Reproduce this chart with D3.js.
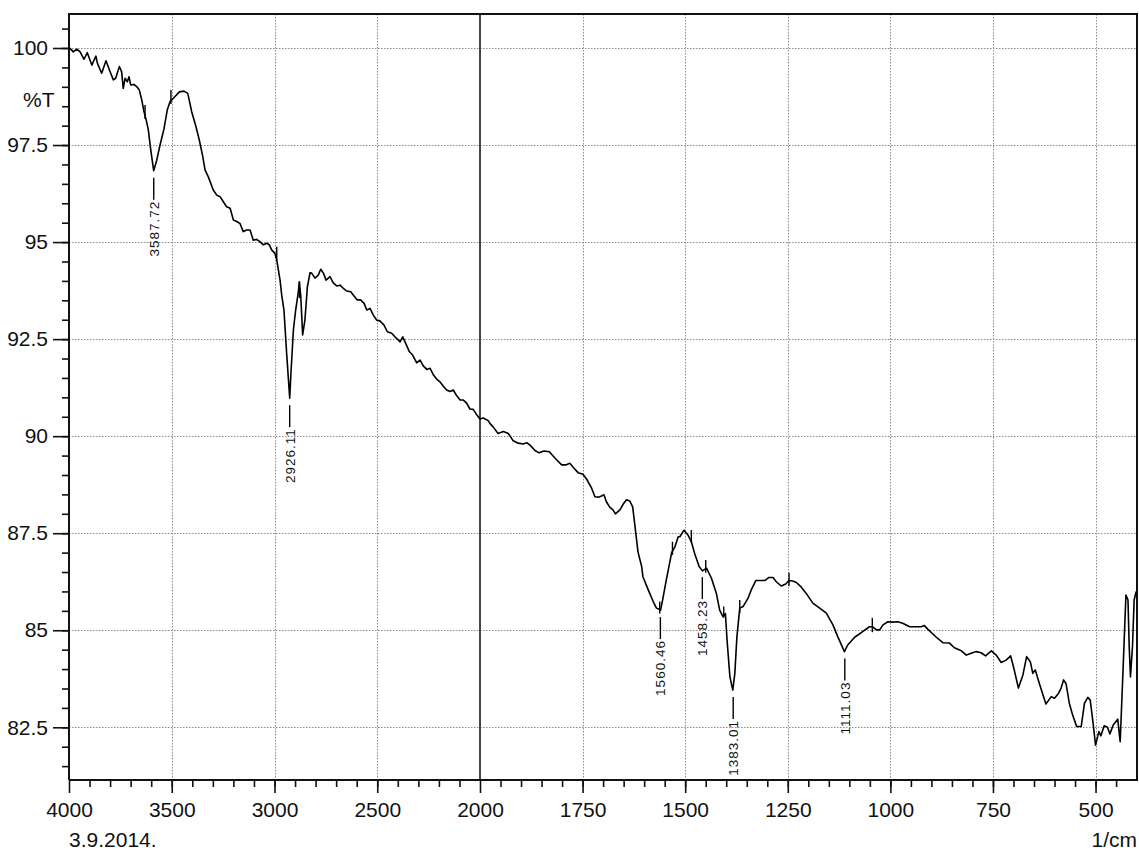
<!DOCTYPE html>
<html>
<head>
<meta charset="utf-8">
<script src="https://cdn.jsdelivr.net/npm/d3@7/dist/d3.min.js"></script>
<style>
  html, body { margin: 0; padding: 0; background: #fff; }
  svg { display: block; font-family: "Liberation Sans", Arial, sans-serif; }
</style>
</head>
<body>
<svg id="chart" width="1139" height="850"></svg>
<script>
// ---- Data (wavenumber in 1/cm, transmittance in %T) ----
const spectrumHigh = [
  [4000,100.0],[3995,99.99],[3979,99.90],[3962,99.97],[3946,99.90],[3927,99.71],[3911,99.88],[3889,99.56],
  [3869,99.79],[3862,99.61],[3841,99.35],[3820,99.67],[3800,99.39],[3784,99.18],[3773,99.22],[3755,99.52],
  [3744,99.39],[3736,98.96],[3727,99.22],[3716,99.13],[3708,99.26],[3700,99.05],[3684,99.06],[3668,98.99],
  [3658,98.92],[3646,98.66],[3635,98.36],[3625,98.16],[3614,97.89],[3602,97.37],[3588,96.84],[3573,97.11],
  [3557,97.50],[3538,97.91],[3522,98.40],[3508,98.62],[3484,98.75],[3463,98.87],[3440,98.89],[3422,98.83],
  [3403,98.36],[3382,97.97],[3366,97.63],[3349,97.20],[3338,96.86],[3322,96.68],[3298,96.34],[3281,96.21],
  [3265,96.17],[3249,96.04],[3233,95.91],[3216,95.87],[3200,95.57],[3184,95.53],[3168,95.48],[3152,95.27],
  [3135,95.31],[3119,95.31],[3103,95.05],[3087,95.07],[3071,95.01],[3054,94.93],[3038,94.97],[3025,94.93],
  [3014,94.80],[2998,94.71],[2989,94.54],[2981,94.28],[2973,94.02],[2965,93.64],[2954,93.25],[2941,92.14],
  [2926,90.98],[2920,91.62],[2908,92.74],[2897,93.25],[2884,93.72],[2879,93.98],[2872,93.59],[2863,92.61],
  [2852,92.99],[2840,93.85],[2827,94.21],[2819,94.20],[2803,94.07],[2787,94.15],[2775,94.30],[2762,94.20],
  [2749,94.02],[2730,94.11],[2714,93.95],[2697,93.87],[2681,93.89],[2665,93.81],[2649,93.74],[2629,93.72],
  [2613,93.61],[2597,93.51],[2581,93.51],[2564,93.42],[2551,93.25],[2535,93.29],[2519,93.12],[2503,92.99],
  [2487,92.97],[2467,92.86],[2451,92.69],[2430,92.65],[2414,92.56],[2398,92.48],[2389,92.43],[2376,92.56],
  [2360,92.37],[2344,92.18],[2328,92.09],[2308,91.89],[2292,91.96],[2276,91.81],[2259,91.72],[2243,91.75],
  [2227,91.58],[2211,91.47],[2195,91.40],[2179,91.29],[2162,91.19],[2146,91.15],[2130,91.19],[2113,91.04],
  [2097,90.93],[2081,90.93],[2065,90.85],[2049,90.70],[2033,90.69],[2016,90.55],[2000,90.44]
];
const spectrumLow = [
  [1992,90.47],[1980,90.40],[1976,90.33],[1968,90.24],[1956,90.07],[1943,90.12],[1931,90.07],[1919,89.88],
  [1907,89.82],[1895,89.80],[1886,89.83],[1878,89.77],[1866,89.63],[1856,89.57],[1844,89.62],[1831,89.60],
  [1817,89.43],[1801,89.26],[1791,89.26],[1781,89.30],[1773,89.20],[1761,89.06],[1749,89.02],[1740,88.89],
  [1728,88.66],[1720,88.44],[1710,88.43],[1704,88.46],[1698,88.49],[1692,88.31],[1684,88.17],[1676,88.10],
  [1670,88.00],[1659,88.10],[1651,88.25],[1643,88.36],[1635,88.33],[1628,88.18],[1623,87.74],[1615,87.02],
  [1606,86.64],[1603,86.38],[1590,86.04],[1578,85.74],[1570,85.57],[1560,85.52],[1555,85.78],[1546,86.30],
  [1542,86.51],[1533,87.00],[1525,87.15],[1517,87.41],[1513,87.41],[1503,87.58],[1493,87.45],[1485,87.28],
  [1477,86.98],[1466,86.64],[1458,86.53],[1448,86.60],[1436,86.34],[1424,85.95],[1416,85.52],[1408,85.35],
  [1402,85.43],[1398,84.75],[1391,83.80],[1384,83.46],[1379,83.89],[1374,84.83],[1367,85.57],[1359,85.61],
  [1347,85.82],[1339,86.04],[1328,86.28],[1306,86.28],[1296,86.36],[1286,86.36],[1278,86.25],[1266,86.14],
  [1255,86.19],[1247,86.28],[1238,86.27],[1229,86.23],[1217,86.11],[1205,85.95],[1189,85.70],[1168,85.54],
  [1156,85.44],[1140,85.14],[1128,84.83],[1112,84.45],[1104,84.62],[1087,84.82],[1071,84.94],[1051,85.09],
  [1043,85.09],[1034,85.01],[1026,85.01],[1018,85.14],[1006,85.22],[994,85.21],[982,85.22],[970,85.18],
  [953,85.09],[925,85.09],[917,85.12],[909,85.03],[888,84.82],[872,84.68],[856,84.67],[844,84.55],
  [827,84.47],[815,84.36],[803,84.41],[791,84.45],[779,84.42],[768,84.34],[754,84.47],[742,84.36],
  [730,84.17],[718,84.23],[707,84.34],[700,84.06],[688,83.51],[677,83.85],[668,84.32],[659,84.19],
  [653,83.89],[647,83.98],[637,83.63],[621,83.10],[608,83.29],[600,83.25],[590,83.38],[584,83.51],
  [578,83.72],[572,83.63],[564,83.12],[556,82.82],[546,82.52],[535,82.52],[527,83.12],[519,83.27],
  [513,83.20],[507,82.69],[500,82.04],[492,82.39],[487,82.28],[479,82.54],[471,82.50],[465,82.33],
  [457,82.56],[446,82.71],[440,82.13],[434,83.72],[426,85.91],[421,85.78],[418,84.58],[415,83.80],
  [410,84.58],[406,85.78],[401,86.00]
];
// small vertical markers drawn on the trace: [wavenumber, upper %T, lower %T]
const traceMarkers = [
  [3630,98.53,98.17],[3504,98.92,98.56],[2989,94.88,94.54],[2879,93.97,93.56],
  [1562,85.74,85.43],[1531,87.28,86.94],[1485,87.58,87.25],[1450,86.81,86.48],
  [1406,85.61,85.32],[1367,85.78,85.44],[1247,86.48,86.14],[1044,85.32,84.95]
];
const peakWavenumbers = [3587.72, 2926.11, 1560.46, 1458.23, 1383.01, 1111.03];
const peakTransmittance = [96.84, 90.98, 85.52, 86.55, 83.46, 84.45];

const xMajorTicks = [4000, 3500, 3000, 2500, 2000, 1750, 1500, 1250, 1000, 750, 500];
const xGridTicks = [3500, 3000, 2500, 1750, 1500, 1250, 1000, 750, 500];
const xMinorTicks = d3.range(3900, 2000, -100).concat(d3.range(1950, 400, -50));
const yMajorTicks = [82.5, 85, 87.5, 90, 92.5, 95, 97.5, 100];
const yTickLabels = ["82.5", "85", "87.5", "90", "92.5", "95", "97.5", "100"];
const yMinorTicks = d3.range(81.5, 100.6, 0.5);
const yAxisTitle = "%T";
const xAxisTitle = "1/cm";
const dateLabel = "3.9.2014.";

// ---- Layout ----
const L = 69, R = 1137, T = 14, B = 780;
const svg = d3.select("#chart");
const x = d3.scaleLinear().domain([4000, 2000, 400]).range([L, 480, 1136.6]);
const y = d3.scaleLinear().domain([82.5, 100]).range([727.3, 48]);

// grid
const grid = svg.append("g").attr("stroke", "#8a8a8a").attr("stroke-width", 1)
  .attr("stroke-dasharray", "1.5,1.5").attr("fill", "none");
grid.selectAll("line.h").data(yMajorTicks).join("line")
  .attr("x1", L).attr("x2", R).attr("y1", d => Math.round(y(d)) + 0.5).attr("y2", d => Math.round(y(d)) + 0.5);
grid.selectAll("line.v").data(xGridTicks).join("line")
  .attr("y1", T).attr("y2", B).attr("x1", d => Math.round(x(d)) + 0.5).attr("x2", d => Math.round(x(d)) + 0.5);

// scale break line at 2000
svg.append("line").attr("x1", x(2000)).attr("x2", x(2000)).attr("y1", T).attr("y2", B)
  .attr("stroke", "#333").attr("stroke-width", 1.8);

// axes
const fontSize = 21;
const yAxisMajor = d3.axisLeft(y).tickValues(yMajorTicks).tickSize(16).tickPadding(5)
  .tickFormat((d, i) => yTickLabels[i]);
const yAxisMinor = d3.axisLeft(y).tickValues(yMinorTicks).tickSize(7).tickFormat("");
const xAxisMajor = d3.axisBottom(x).tickValues(xMajorTicks).tickSize(13).tickPadding(9).tickFormat(d3.format("d"));
const xAxisMinor = d3.axisBottom(x).tickValues(xMinorTicks).tickSize(7).tickFormat("");

function styleAxis(g) {
  g.select(".domain").remove();
  g.selectAll(".tick line").attr("stroke", "#111").attr("stroke-width", 1.6);
  g.selectAll(".tick text").attr("fill", "#111").style("font-size", fontSize + "px")
    .style("font-family", "'Liberation Sans', Arial, sans-serif");
}
svg.append("g").attr("transform", `translate(${L},0)`).call(yAxisMinor).call(styleAxis);
svg.append("g").attr("transform", `translate(${L},0)`).call(yAxisMajor).call(styleAxis);
svg.append("g").attr("transform", `translate(0,${B})`).call(xAxisMinor).call(styleAxis);
svg.append("g").attr("transform", `translate(0,${B})`).call(xAxisMajor).call(styleAxis);

// frame
svg.append("path").attr("d", `M${L},${B}V${T}H${R}V${B}H${L}`)
  .attr("fill", "none").attr("stroke", "#111").attr("stroke-width", 2);

// spectrum
const line = d3.line().x(d => x(d[0])).y(d => y(d[1]));
svg.append("path").datum(spectrumHigh.concat(spectrumLow)).attr("d", line)
  .attr("fill", "none").attr("stroke", "#000").attr("stroke-width", 1.6).attr("stroke-linejoin", "round");

svg.append("g").selectAll("line").data(traceMarkers).join("line")
  .attr("x1", d => x(d[0])).attr("x2", d => x(d[0]))
  .attr("y1", d => y(d[1])).attr("y2", d => y(d[2]))
  .attr("stroke", "#000").attr("stroke-width", 1.4);

// peak labels
const peaks = peakWavenumbers.map((w, i) => ({ w, t: peakTransmittance[i] }));
const pg = svg.append("g");
pg.selectAll("line").data(peaks).join("line")
  .attr("x1", d => x(d.w)).attr("x2", d => x(d.w))
  .attr("y1", d => y(d.t) + 7).attr("y2", d => y(d.t) + 29)
  .attr("stroke", "#000").attr("stroke-width", 1.4);
pg.selectAll("text").data(peaks).join("text")
  .attr("transform", d => `translate(${x(d.w)},${y(d.t) + 30}) rotate(-90)`)
  .attr("text-anchor", "end").attr("dy", "0.36em")
  .style("font-size", "13.5px").style("letter-spacing", "1px").attr("fill", "#111")
  .text(d => d.w.toFixed(2));

// titles
svg.append("text").attr("x", 23).attr("y", 107).style("font-size", fontSize + "px").attr("fill", "#111").text(yAxisTitle);
svg.append("text").attr("x", L).attr("y", 847).style("font-size", fontSize + "px").attr("fill", "#111").text(dateLabel);
svg.append("text").attr("x", 1137).attr("y", 847).attr("text-anchor", "end").style("font-size", fontSize + "px").attr("fill", "#111").text(xAxisTitle);
</script>
</body>
</html>
